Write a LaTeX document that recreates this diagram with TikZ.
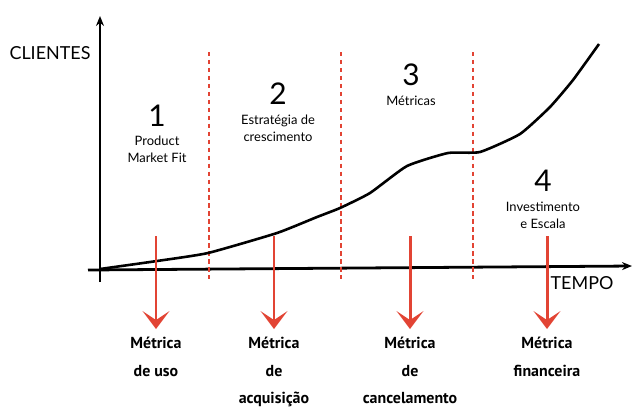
\documentclass[tikz,border=0pt]{standalone}
\usepackage{fontspec}
\setmainfont{Lato}
\newfontfamily\handfont{PT Sans}
\usetikzlibrary{arrows.meta}
\definecolor{metricred}{RGB}{226,68,52}
\tikzstyle{axis}=[draw,line width=2.8pt,-{Stealth[length=10pt,width=8pt]}]
\tikzstyle{phaseline}=[draw,metricred,line width=2pt,dash pattern=on 4.5pt off 3.5pt]
\tikzstyle{growth}=[draw,line width=2.6pt,line join=round]
\tikzstyle{metricarrow}=[draw,metricred,line width=3pt,-{Stealth[length=18pt,width=27pt,inset=9pt]}]
\tikzstyle{phasenum}=[font=\fontsize{30}{32}\selectfont,inner sep=0pt]
\tikzstyle{phasetext}=[font=\fontsize{13}{17}\selectfont,align=center,inner sep=0pt]
\tikzstyle{metrictext}=[font=\handfont\bfseries\fontsize{16}{27.5}\selectfont,align=center,inner sep=0pt,anchor=north]
\tikzstyle{axistext}=[font=\fontsize{18}{20}\selectfont,inner sep=0pt]

\begin{document}
\begin{tikzpicture}[x=1bp,y=-1bp]
    \useasboundingbox (0,0) rectangle (638,416);

    % Axes
    \coordinate (O) at (100,270);
    \coordinate (ybot) at (100,282);
    \coordinate (ytop) at (100,16);
    \coordinate (xbot) at (88,270);
    \coordinate (xend) at (632,266);
    \path[axis] (ybot) -- (ytop);
    \path[axis] (xbot) -- (xend);
    \node[axistext] (clientes) at (50,53) {CLIENTES};
    \node[axistext] (tempo) at (582,283) {TEMPO};

    % Phase separators
    \foreach \x/\name in {209/s1, 341/s2, 473/s3} {
        \coordinate (\name top) at (\x,52);
        \coordinate (\name bot) at (\x,279);
        \path[phaseline] (\name top) -- (\name bot);
    }

    % Growth curve
    \path[growth] plot[smooth,tension=0.3] coordinates {(100,269) (157,261) (208,253) (277,233) (317,217) (340,208) (370,193) (407,166) (448,153) (480,152) (520,134) (550,107) (573,80) (599,44)};

    % Phase numbers and titles
    \foreach \pos/\name/\num in {{(157,116)/n1/1},{(278,94)/n2/2},{(411,75)/n3/3},{(543,181)/n4/4}}
        \node[phasenum] (\name) at \pos {\num};

    \foreach \pos/\name/\txt in {{(157,149)/t1/{Product\\Market Fit}},{(278,128)/t2/{Estratégia de\\crescimento}},{(411,101)/t3/{Métricas}},{(543,215)/t4/{Investimento\\e Escala}}}
        \node[phasetext] (\name) at \pos {\txt};

    % Metric arrows and labels
    \foreach \x/\name/\txt in {156/m1/{Métrica\\de uso},274/m2/{Métrica\\de\\acquisição},410/m3/{Métrica\\de\\cancelamento},547/m4/{Métrica\\financeira}} {
        \coordinate (\name top) at (\x,236);
        \coordinate (\name tip) at (\x,329);
        \node[metrictext] (\name) at (\x,337) {\txt};
        \path[metricarrow] (\name top) -- (\name tip);
    }
\end{tikzpicture}
\end{document}
